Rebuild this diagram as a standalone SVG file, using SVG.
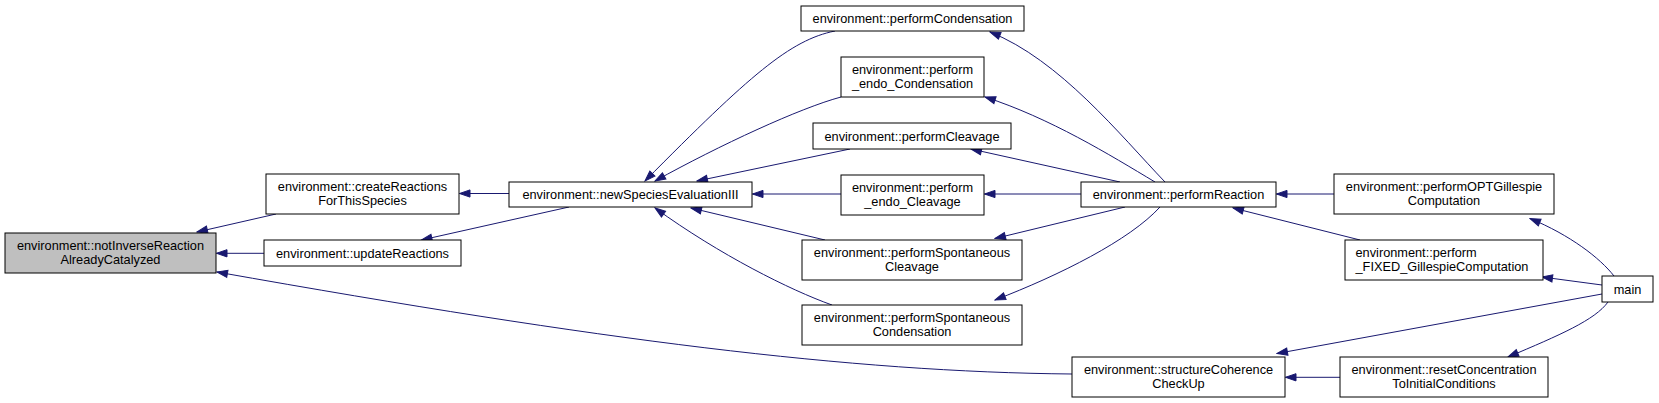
<svg xmlns="http://www.w3.org/2000/svg" width="1659" height="403" viewBox="0 0 1659 403">
<style>
.n rect{fill:#ffffff;stroke:#000000;stroke-width:1}
.n.root rect{fill:#bfbfbf}
.n text{font-family:"Liberation Sans",Arial,Helvetica,sans-serif;font-size:12.75px;fill:#000000;text-anchor:middle}
.n text.l{text-anchor:start}
.e path{fill:none;stroke:#191970;stroke-width:1;marker-end:url(#ah)}
</style>
<defs>
<marker id="ah" markerUnits="userSpaceOnUse" markerWidth="13" markerHeight="10" viewBox="-12 -5 13 10" refX="0" refY="0" orient="auto">
<path d="M-10.5,-3.6 L0,0 L-10.5,3.6 z" fill="#191970" stroke="#191970" stroke-width="1"/>
</marker>
</defs>
<rect width="1659" height="403" fill="#ffffff"/>
<g id="edges" class="e">
<path d="M276,214 L197,232"/>
<path d="M264,253.3 L216.5,253.3"/>
<path d="M1072,374 C850,372 600,340 217,272"/>
<path d="M509,193.5 L459.5,193.5"/>
<path d="M569,207 L421.5,240"/>
<path d="M835,31 C790,40 750,75 645,181"/>
<path d="M841,97 C800,108 720,145 655,181"/>
<path d="M850,149 L697,181"/>
<path d="M841,194 L752.5,194"/>
<path d="M825,240 L691,208"/>
<path d="M832,305 C790,290 720,255 655,208"/>
<path d="M1165,182 C1120,135 1060,60 990,32"/>
<path d="M1155,182 C1110,155 1050,118 985,97"/>
<path d="M1120,182 L971,149"/>
<path d="M1081,194 L984.5,194"/>
<path d="M1125,207 L995,238.5"/>
<path d="M1160,207 C1130,240 1060,275 995,300"/>
<path d="M1334,194 L1276.5,194"/>
<path d="M1360,240 L1233,208"/>
<path d="M1614,276 C1600,258 1570,235 1530,218.5"/>
<path d="M1602,285 L1542,277"/>
<path d="M1602,294 L1277,353.5"/>
<path d="M1608,302 C1595,320 1560,335 1508,357"/>
<path d="M1340,377.3 L1285.5,377.3"/>
</g>
<g id="n_root" class="n root"><rect x="5" y="233" width="211" height="40"/><text x="110.5" y="249.5">environment::notInverseReaction</text><text x="110.5" y="263.5">AlreadyCatalyzed</text></g>
<g id="n_createReactions" class="n"><rect x="266" y="174" width="193" height="40"/><text x="362.5" y="191">environment::createReactions</text><text x="362.5" y="205">ForThisSpecies</text></g>
<g id="n_updateReactions" class="n"><rect x="264" y="240" width="197" height="26"/><text x="362.5" y="257.5">environment::updateReactions</text></g>
<g id="n_newSpecies" class="n"><rect x="509" y="182" width="243" height="25"/><text x="630.5" y="198.5">environment::newSpeciesEvaluationIII</text></g>
<g id="n_performCondensation" class="n"><rect x="801" y="6" width="223" height="25"/><text x="912.5" y="22.5">environment::performCondensation</text></g>
<g id="n_performEndoCondensation" class="n"><rect x="841" y="57" width="143" height="40"/><text x="912.5" y="74">environment::perform</text><text x="912.5" y="88">_endo_Condensation</text></g>
<g id="n_performCleavage" class="n"><rect x="813" y="123" width="198" height="26"/><text x="912" y="140.5">environment::performCleavage</text></g>
<g id="n_performEndoCleavage" class="n"><rect x="841" y="175" width="143" height="40"/><text x="912.5" y="192">environment::perform</text><text x="912.5" y="206">_endo_Cleavage</text></g>
<g id="n_performSpontaneousCleavage" class="n"><rect x="802" y="240" width="220" height="40"/><text x="912" y="257">environment::performSpontaneous</text><text x="912" y="271">Cleavage</text></g>
<g id="n_performSpontaneousCondensation" class="n"><rect x="802" y="305" width="220" height="40"/><text x="912" y="322">environment::performSpontaneous</text><text x="912" y="336">Condensation</text></g>
<g id="n_performReaction" class="n"><rect x="1081" y="182" width="195" height="25"/><text x="1178.5" y="198.5">environment::performReaction</text></g>
<g id="n_performOPTGillespie" class="n"><rect x="1334" y="174" width="220" height="40"/><text x="1444" y="191">environment::performOPTGillespie</text><text x="1444" y="205">Computation</text></g>
<g id="n_performFIXEDGillespie" class="n"><rect x="1345" y="240" width="198" height="40"/><text class="l" x="1355.5" y="257">environment::perform</text><text class="l" x="1355.5" y="271">_FIXED_GillespieComputation</text></g>
<g id="n_main" class="n"><rect x="1602" y="276" width="51" height="26"/><text x="1627.5" y="293.5">main</text></g>
<g id="n_structureCoherence" class="n"><rect x="1072" y="357" width="213" height="40"/><text x="1178.5" y="374">environment::structureCoherence</text><text x="1178.5" y="388">CheckUp</text></g>
<g id="n_resetConcentration" class="n"><rect x="1340" y="357" width="208" height="40"/><text x="1444" y="374">environment::resetConcentration</text><text x="1444" y="388">ToInitialConditions</text></g>
</svg>
